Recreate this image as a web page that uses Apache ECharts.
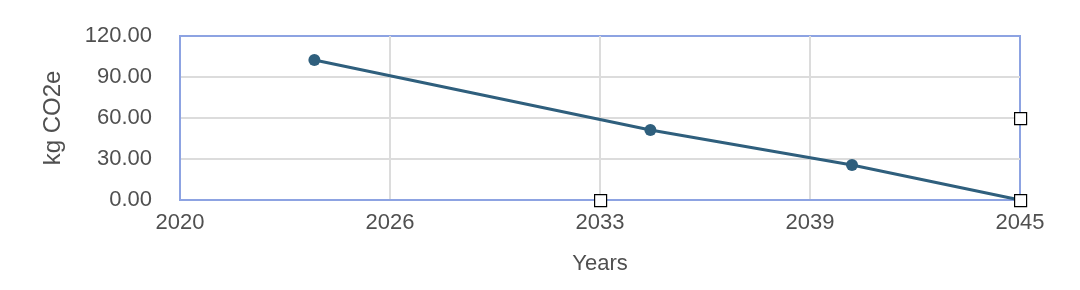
<!DOCTYPE html>
<html><head><meta charset="utf-8">
<script src="https://cdn.jsdelivr.net/npm/echarts@6/dist/echarts.min.js"></script>
<style>html,body{margin:0;padding:0;background:#fff}#c{width:1080px;height:290px}</style>
</head><body><div id="c"></div>
<script>
const BASE_YEAR = 2020;
const END_YEAR = 2045;
const years = [2024, 2034, 2040, 2045];
const emissions = [102.4, 51.2, 25.6, 0];
const yTicks = [0, 30, 60, 90, 120];
const xTickStep = 6.25;

const chart = echarts.init(document.getElementById('c'), null, {renderer: 'canvas'});
const font = 'Liberation Sans, Arial, Helvetica, sans-serif';
const handle = (l, t) => ({type: 'rect', left: l - 6, top: t - 6, z: 100,
  shape: {width: 12, height: 12}, style: {fill: '#fff', stroke: '#000', lineWidth: 1.2}});
chart.setOption({
  animation: false,
  grid: {left: 180, right: 60, top: 36, bottom: 90, show: true, borderColor: '#8da3e2', borderWidth: 2, backgroundColor: 'transparent'},
  xAxis: {
    type: 'value', min: 0, max: END_YEAR - BASE_YEAR, interval: xTickStep,
    name: 'Years', nameLocation: 'middle', nameGap: 53,
    nameTextStyle: {fontFamily: font, fontSize: 22, color: '#505050'},
    axisLine: {show: true, lineStyle: {color: '#8da3e2', width: 2}},
    axisTick: {show: false},
    axisLabel: {fontFamily: font, fontSize: 22, color: '#505050', margin: 12,
      formatter: v => String(Math.round(v + BASE_YEAR))},
    splitLine: {show: true, showMinLine: false, showMaxLine: false, lineStyle: {color: '#dcdcdc', width: 2}}
  },
  yAxis: {
    type: 'value', min: yTicks[0], max: yTicks[yTicks.length - 1], interval: yTicks[1] - yTicks[0],
    name: 'kg CO2e', nameLocation: 'middle', nameGap: 115,
    nameTextStyle: {fontFamily: font, fontSize: 24, color: '#505050'},
    axisLine: {show: true, lineStyle: {color: '#8da3e2', width: 2}},
    axisTick: {show: false},
    axisLabel: {fontFamily: font, fontSize: 22, color: '#505050', margin: 28, padding: [5, 0, 0, 0],
      formatter: v => v.toFixed(2)},
    splitLine: {show: true, showMinLine: false, showMaxLine: false, lineStyle: {color: '#dcdcdc', width: 2}}
  },
  series: [{
    type: 'line',
    data: years.map((y, i) => [y - BASE_YEAR, emissions[i]]),
    symbol: 'circle', symbolSize: 12, showSymbol: true,
    lineStyle: {color: '#2f5f7d', width: 3},
    itemStyle: {color: '#2f5f7d'}
  }],
  graphic: [handle(600, 200), handle(1020, 200), handle(1020, 118)]
});
</script></body></html>
